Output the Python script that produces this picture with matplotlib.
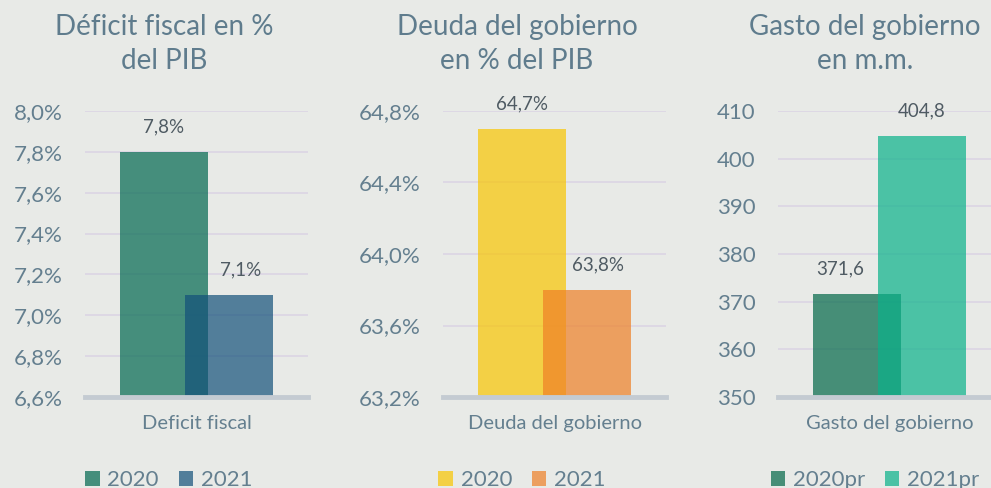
import matplotlib.pyplot as plt
from matplotlib.patches import Patch

plt.rcParams['font.family'] = ['Lato', 'DejaVu Sans']

BG = '#e8eae7'
TITLE_COLOR = '#5f7c8d'
TICK_COLOR = '#647f8f'
LABEL_COLOR = '#4f5b63'

# deficit fiscal, % del PIB
deficit_years = ['2020', '2021']
deficit_vals = [7.8, 7.1]
deficit_ticks = [6.6, 6.8, 7.0, 7.2, 7.4, 7.6, 7.8, 8.0]

# deuda del gobierno, % del PIB
deuda_years = ['2020', '2021']
deuda_vals = [64.7, 63.8]
deuda_ticks = [63.2, 63.6, 64.0, 64.4, 64.8]

# gasto del gobierno, miles de millones
gasto_years = ['2020pr', '2021pr']
gasto_vals = [371.6, 404.8]
gasto_ticks = [350, 360, 370, 380, 390, 400, 410]


def pct(v):
    return f'{v:.1f}'.replace('.', ',') + '%'


def dec(v):
    return f'{v:.1f}'.replace('.', ',')


panels = [
    dict(title='Déficit fiscal en %\ndel PIB', cat='Deficit fiscal',
         years=deficit_years, vals=deficit_vals, ticks=deficit_ticks,
         fmt=pct, tick_fmt=pct,
         colors=['#00684f', '#12507a'], label_dx=[0, 8],
         left=85, title_x=164, legend_x=169),
    dict(title='Deuda del gobierno\nen % del PIB', cat='Deuda del gobierno',
         years=deuda_years, vals=deuda_vals, ticks=deuda_ticks,
         fmt=pct, tick_fmt=pct,
         colors=['#f9c500', '#ef8026'], label_dx=[0, 8],
         left=443, title_x=517, legend_x=522),
    dict(title='Gasto del gobierno\nen m.m.', cat='Gasto del gobierno',
         years=gasto_years, vals=gasto_vals, ticks=gasto_ticks,
         fmt=dec, tick_fmt=lambda v: f'{v:d}',
         colors=['#016848', '#09b28a'], label_dx=[-12, 0],
         left=778, title_x=865, legend_x=875),
]

W, H = 991, 488
fig = plt.figure(figsize=(W / 100, H / 100), dpi=100, facecolor=BG)

bar_w = 0.395
offsets = [-0.146, 0.146]
alpha = 0.7

for p in panels:
    ax = fig.add_axes([p['left'] / W, 1 - 397 / H, 223 / W, 286 / H])
    ax.set_facecolor(BG)
    for i, (yr, v) in enumerate(zip(p['years'], p['vals'])):
        ax.bar(offsets[i], v - p['ticks'][0], bottom=p['ticks'][0], width=bar_w,
               color=p['colors'][i], alpha=alpha, zorder=3, label=yr)
        ax.annotate(p['fmt'](v), (offsets[i], v), xytext=(p['label_dx'][i], 12),
                    textcoords='offset points', ha='center', va='bottom',
                    fontsize=13.5, color=LABEL_COLOR, annotation_clip=False, zorder=5)

    ax.set_xlim(-0.5, 0.5)
    ax.set_ylim(p['ticks'][0], p['ticks'][-1])
    ax.set_yticks(p['ticks'])
    ax.set_yticklabels([p['tick_fmt'](t) for t in p['ticks']])
    ax.set_xticks([0])
    ax.set_xticklabels([p['cat']])
    ax.tick_params(axis='y', length=0, pad=16, labelsize=16, labelcolor=TICK_COLOR)
    ax.tick_params(axis='x', length=0, pad=13, labelsize=14.5, labelcolor=TICK_COLOR)
    ax.grid(axis='y', color='#dcd7e4', linewidth=1.3, zorder=0)
    for side in ['top', 'right', 'left']:
        ax.spines[side].set_visible(False)
    ax.spines['bottom'].set_color('#c4cbd2')
    ax.spines['bottom'].set_linewidth(3.5)
    ax.spines['bottom'].set_zorder(4)

    fig.text(p['title_x'] / W, 1 - 44 / H, p['title'], ha='center', va='center',
             multialignment='center', fontsize=20, color=TITLE_COLOR, linespacing=1.4)

    handles = [Patch(facecolor=c, alpha=alpha, label=yr)
               for c, yr in zip(p['colors'], p['years'])]
    ax.legend(handles=handles, loc='center', ncol=2, frameon=False,
              bbox_to_anchor=(p['legend_x'] / W, 1 - 480 / H),
              bbox_transform=fig.transFigure, fontsize=16, labelcolor=TICK_COLOR,
              handlelength=0.65, handleheight=0.65, handletextpad=0.35,
              columnspacing=0.9, borderpad=0)

fig.savefig('out.png', dpi=100, facecolor=BG)
